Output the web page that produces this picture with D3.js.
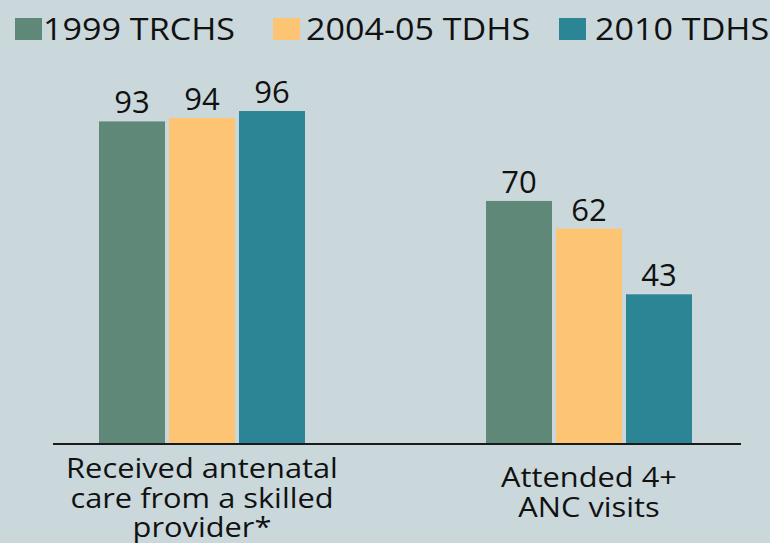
<!DOCTYPE html>
<html>
<head>
<meta charset="utf-8">
<script src="https://cdn.jsdelivr.net/npm/d3@7"></script>
<style>
  html, body { margin: 0; padding: 0; background: #cad8dc; }
  svg { display: block; }
  text { font-family: "Open Sans", "Noto Sans", sans-serif; fill: #111; }
</style>
</head>
<body>
<svg id="chart" width="770" height="543"></svg>
<script>
// ---- data ----
const categories = ["Received antenatal care from a skilled provider*", "Attended 4+ ANC visits"];
const categoryLines = [["Received antenatal", "care from a skilled", "provider*"], ["Attended 4+", "ANC visits"]];
const series = ["1999 TRCHS", "2004-05 TDHS", "2010 TDHS"];
const values1999 = [93, 70];
const values2004 = [94, 62];
const values2010 = [96, 43];
const seriesValues = [values1999, values2004, values2010];
const colors = ["#5f8878", "#fdc473", "#2b8594"];

// ---- layout ----
const W = 770, H = 543;
const baseY = 443;
const stretch = 1.1;
const svg = d3.select("#chart");
svg.append("rect").attr("width", W).attr("height", H).attr("fill", "#cad8dc");

function widen(sel) {
  sel.each(function () {
    const len = this.getComputedTextLength();
    d3.select(this).attr("textLength", len * stretch).attr("lengthAdjust", "spacingAndGlyphs");
  });
}

const x0 = d3.scaleBand().domain(categories).range([8.5, 782.5]).padding(0);
const groupW = 206;
const x1 = d3.scaleBand().domain(series)
  .range([x0.bandwidth() / 2 - groupW / 2, x0.bandwidth() / 2 + groupW / 2])
  .paddingInner(0.057).paddingOuter(0);
const y = d3.scaleLinear().domain([0, 100]).range([baseY, baseY - 345.8]);

const rows = [];
categories.forEach((c, ci) => series.forEach((s, si) => rows.push({ c, s, si, v: seriesValues[si][ci] })));

const g = svg.append("g");
g.selectAll("rect.bar").data(rows).join("rect")
  .attr("class", "bar")
  .attr("x", d => x0(d.c) + x1(d.s))
  .attr("y", d => y(d.v))
  .attr("width", x1.bandwidth())
  .attr("height", d => baseY - y(d.v))
  .attr("fill", d => colors[d.si]);

g.selectAll("text.val").data(rows).join("text")
  .attr("class", "val")
  .attr("x", d => x0(d.c) + x1(d.s) + x1.bandwidth() / 2)
  .attr("y", d => y(d.v) - 8)
  .attr("text-anchor", "middle")
  .attr("font-size", 31)
  .text(d => d.v);

// axis line
svg.append("line")
  .attr("x1", 53).attr("x2", 741)
  .attr("y1", baseY + 1).attr("y2", baseY + 1)
  .attr("stroke", "#1a1a1a").attr("stroke-width", 2);

// category labels
categories.forEach((c, ci) => {
  const lines = categoryLines[ci];
  const startY = 478 + (3 - lines.length) * 9;
  lines.forEach((ln, li) => {
    svg.append("text")
      .attr("x", x0(c) + x0.bandwidth() / 2)
      .attr("y", startY + li * 29.5)
      .attr("text-anchor", "middle")
      .attr("font-size", 28)
      .text(ln)
      .call(widen);
  });
});

// legend
const legendSquareX = [15, 273, 559];
const legendTextX = [43, 306, 595];
const leg = svg.selectAll("g.leg").data(series).join("g").attr("class", "leg");
leg.append("rect")
  .attr("x", (d, i) => legendSquareX[i]).attr("y", 18)
  .attr("width", 27).attr("height", 22)
  .attr("fill", (d, i) => colors[i]);
leg.append("text")
  .attr("x", (d, i) => legendTextX[i]).attr("y", 40)
  .attr("font-size", 31)
  .text(d => d)
  .call(widen);
</script>
</body>
</html>
